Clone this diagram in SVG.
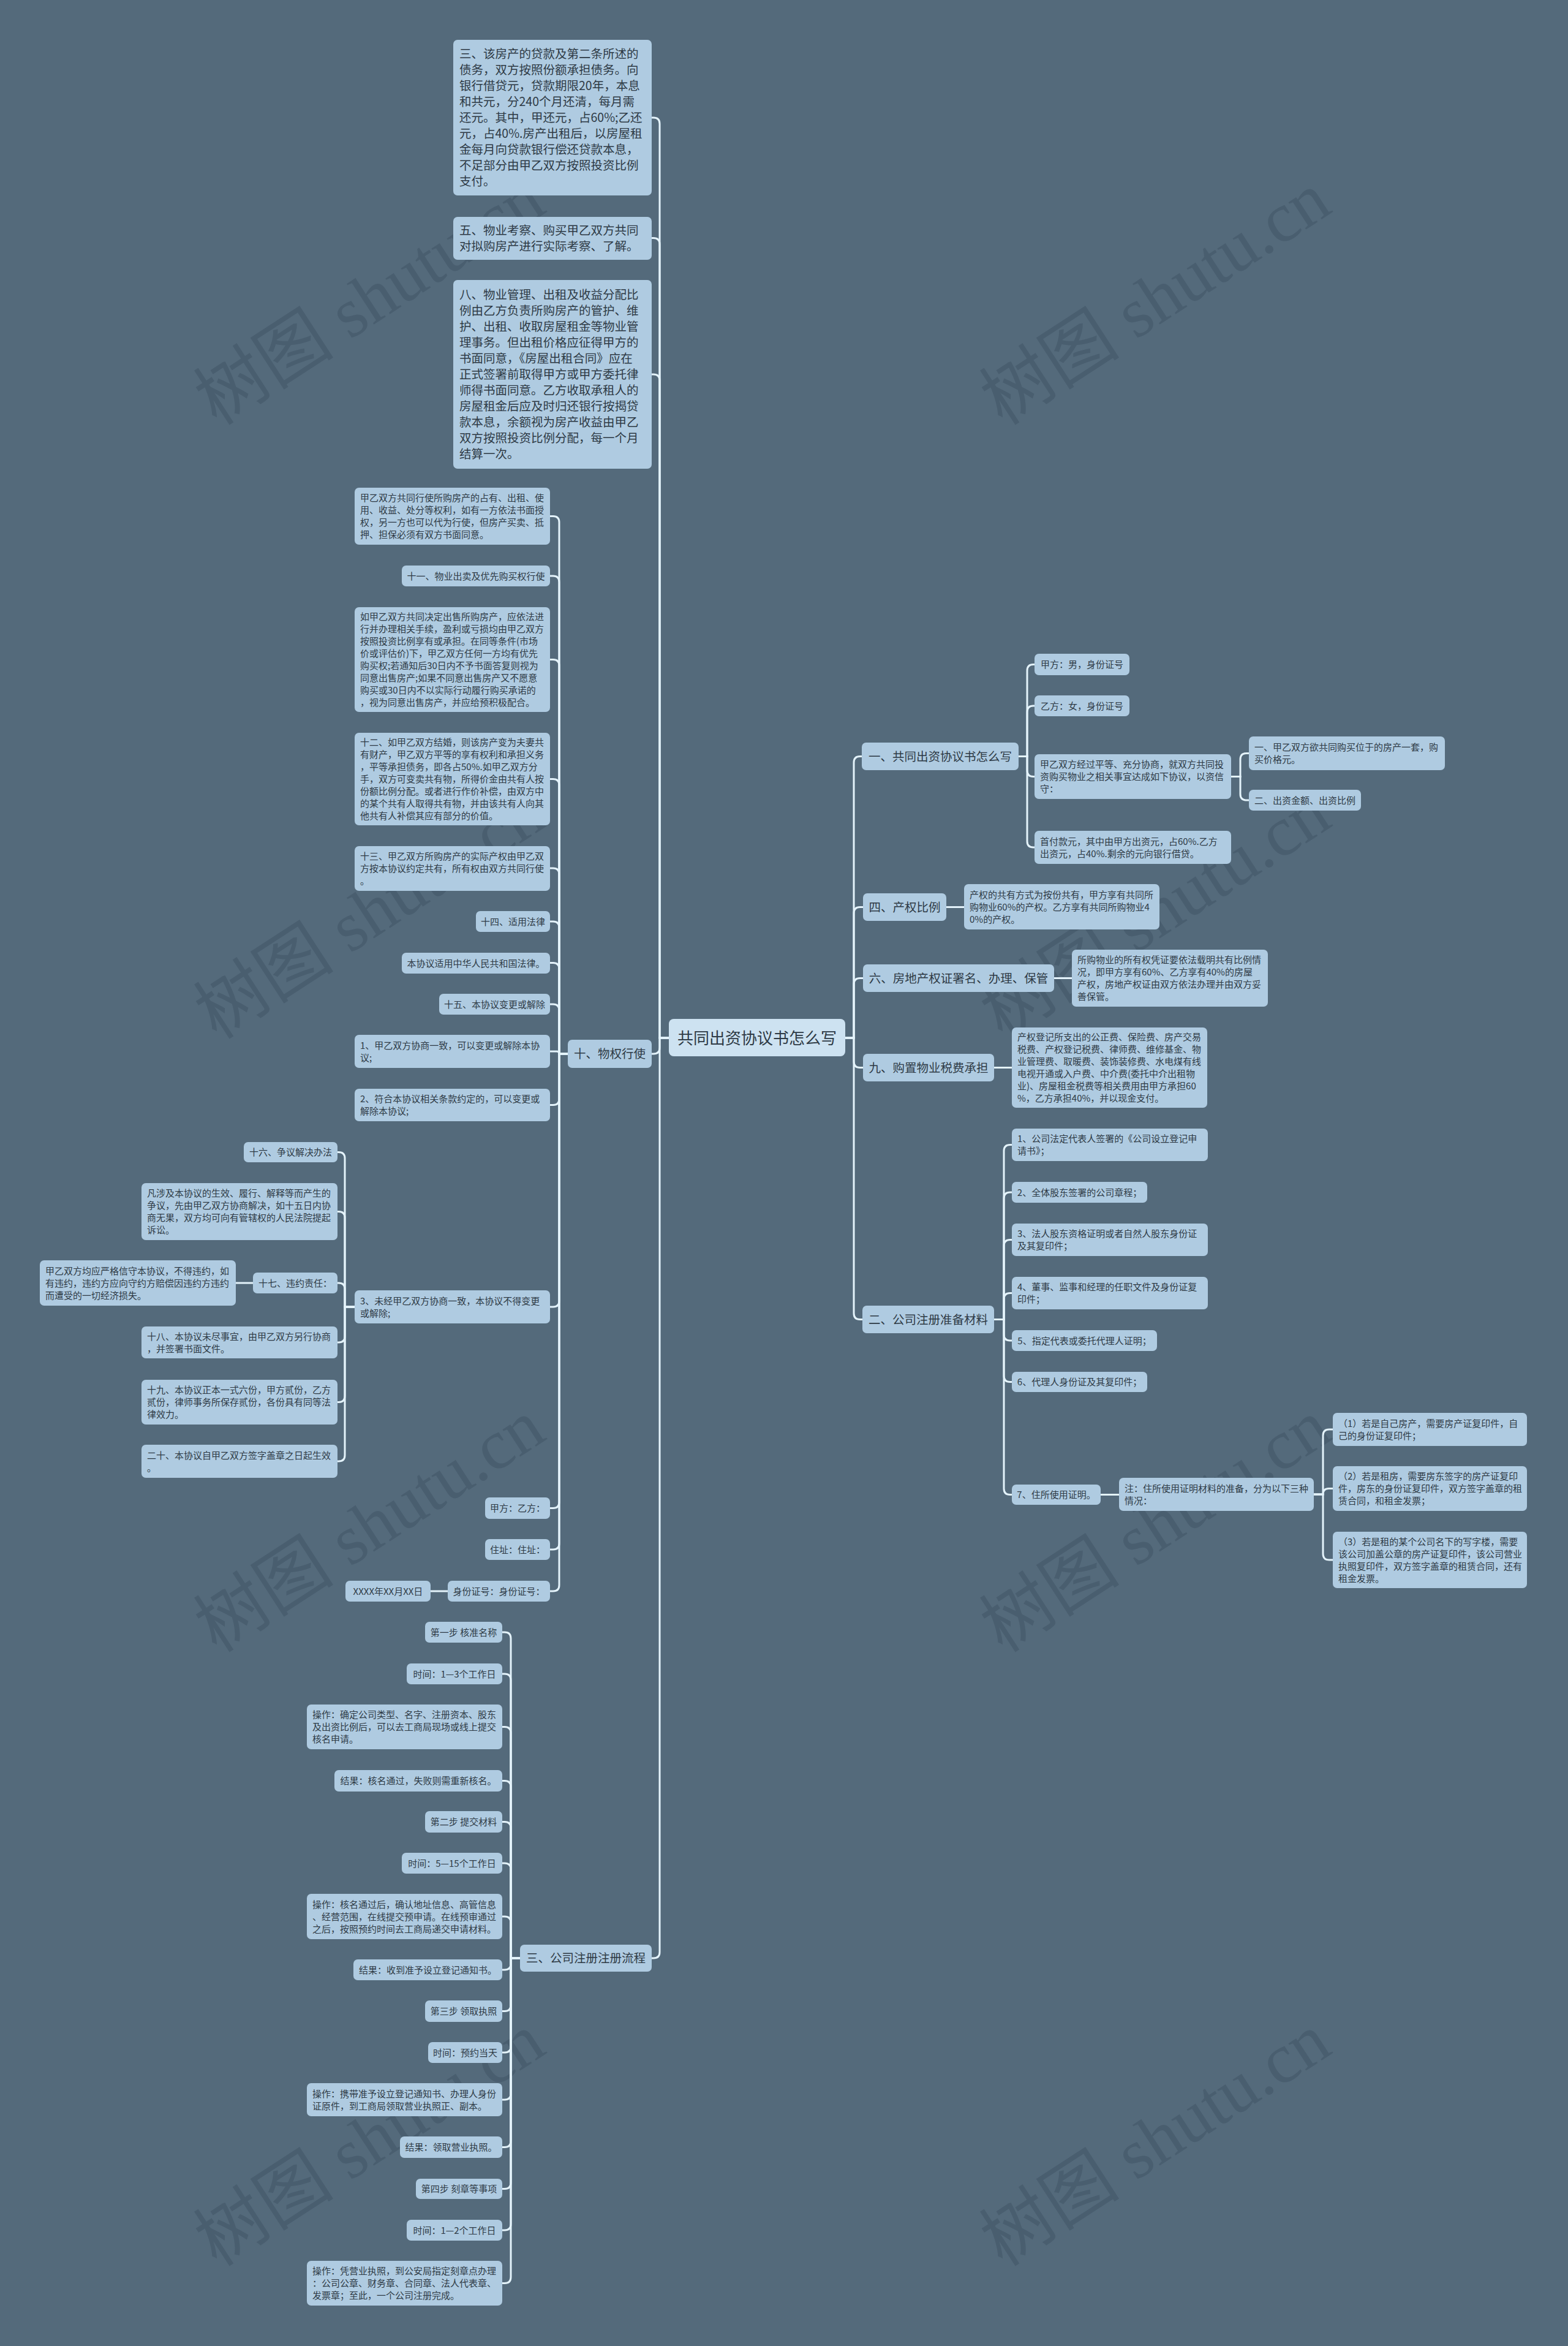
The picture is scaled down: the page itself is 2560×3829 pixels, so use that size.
<svg xmlns="http://www.w3.org/2000/svg" width="2560" height="3829" viewBox="0 0 2560 3829">
<style>
.bg{fill:#546a7b}
.n{fill:#afcbe1}
.rt{fill:#cde2f1}
.t{font-family:"Noto Sans CJK SC","Liberation Sans",sans-serif;font-size:15px;fill:#2e3a45}
.tb{font-size:19.5px}
.tr{font-size:26px}
.m{text-anchor:middle}
.c{fill:none;stroke:#e4f3fb;stroke-width:3;stroke-linecap:round}
.wm{font-family:"Liberation Serif","Noto Sans CJK SC",serif;font-size:115px;fill:#2f4252;fill-opacity:0.28}
</style>
<rect class="bg" x="0" y="0" width="2560" height="3829"/>
<g id="watermarks">
<text class="wm" transform="translate(354,696) rotate(-33)">树图 shutu.cn</text>
<text class="wm" transform="translate(1637,696) rotate(-33)">树图 shutu.cn</text>
<text class="wm" transform="translate(354,1698) rotate(-33)">树图 shutu.cn</text>
<text class="wm" transform="translate(1637,1698) rotate(-33)">树图 shutu.cn</text>
<text class="wm" transform="translate(354,2699) rotate(-33)">树图 shutu.cn</text>
<text class="wm" transform="translate(1637,2699) rotate(-33)">树图 shutu.cn</text>
<text class="wm" transform="translate(354,3701) rotate(-33)">树图 shutu.cn</text>
<text class="wm" transform="translate(1637,3701) rotate(-33)">树图 shutu.cn</text>
</g>
<g id="connectors">
<path class="c" d="M1092,1694 H1077 V202 Q1077,192 1067,192 H1064"/>
<path class="c" d="M1092,1694 H1077 V398.5 Q1077,388.5 1067,388.5 H1064"/>
<path class="c" d="M1092,1694 H1077 V621 Q1077,611 1067,611 H1064"/>
<path class="c" d="M1092,1694 H1077 V1710 Q1077,1720 1067,1720 H1064"/>
<path class="c" d="M1092,1694 H1077 V3186 Q1077,3196 1067,3196 H1064"/>
<path class="c" d="M1380,1694 H1394 V1244.5 Q1394,1234.5 1404,1234.5 H1407"/>
<path class="c" d="M1380,1694 H1394 V1490.5 Q1394,1480.5 1404,1480.5 H1409"/>
<path class="c" d="M1380,1694 H1394 V1606.5 Q1394,1596.5 1404,1596.5 H1409"/>
<path class="c" d="M1380,1694 H1394 V1732.5 Q1394,1742.5 1404,1742.5 H1409"/>
<path class="c" d="M1380,1694 H1394 V2143.5 Q1394,2153.5 1404,2153.5 H1408"/>
<path class="c" d="M1663,1234.5 H1677 V1094.5 Q1677,1084.5 1687,1084.5 H1689"/>
<path class="c" d="M1663,1234.5 H1677 V1162 Q1677,1152 1687,1152 H1689"/>
<path class="c" d="M1663,1234.5 H1677 V1257.5 Q1677,1267.5 1687,1267.5 H1689"/>
<path class="c" d="M1663,1234.5 H1677 V1373 Q1677,1383 1687,1383 H1689"/>
<path class="c" d="M2010,1267.5 H2025 V1239.5 Q2025,1229.5 2035,1229.5 H2039"/>
<path class="c" d="M2010,1267.5 H2025 V1296 Q2025,1306 2035,1306 H2039"/>
<path class="c" d="M1545,1480.5 H1574"/>
<path class="c" d="M1721,1596.5 H1750"/>
<path class="c" d="M1623,1742.5 H1652"/>
<path class="c" d="M1623,2153.5 H1639 V1878.5 Q1639,1868.5 1649,1868.5 H1652"/>
<path class="c" d="M1623,2153.5 H1639 V1956 Q1639,1946 1649,1946 H1652"/>
<path class="c" d="M1623,2153.5 H1639 V2033.5 Q1639,2023.5 1649,2023.5 H1652"/>
<path class="c" d="M1623,2153.5 H1639 V2120.5 Q1639,2110.5 1649,2110.5 H1652"/>
<path class="c" d="M1623,2153.5 H1639 V2178 Q1639,2188 1649,2188 H1652"/>
<path class="c" d="M1623,2153.5 H1639 V2245.5 Q1639,2255.5 1649,2255.5 H1652"/>
<path class="c" d="M1623,2153.5 H1639 V2429.5 Q1639,2439.5 1649,2439.5 H1652"/>
<path class="c" d="M1797,2439.5 H1827"/>
<path class="c" d="M2145,2439 H2160 V2343 Q2160,2333 2170,2333 H2176"/>
<path class="c" d="M2145,2439 H2160 Q2160,2429.5 2169.5,2429.5 H2176"/>
<path class="c" d="M2145,2439 H2160 V2536 Q2160,2546 2170,2546 H2176"/>
<path class="c" d="M927,1720 H913 V852.5 Q913,842.5 903,842.5 H898"/>
<path class="c" d="M927,1720 H913 V950 Q913,940 903,940 H898"/>
<path class="c" d="M927,1720 H913 V1086.5 Q913,1076.5 903,1076.5 H898"/>
<path class="c" d="M927,1720 H913 V1281.5 Q913,1271.5 903,1271.5 H898"/>
<path class="c" d="M927,1720 H913 V1427 Q913,1417 903,1417 H898"/>
<path class="c" d="M927,1720 H913 V1514 Q913,1504 903,1504 H898"/>
<path class="c" d="M927,1720 H913 V1581.5 Q913,1571.5 903,1571.5 H898"/>
<path class="c" d="M927,1720 H913 V1649 Q913,1639 903,1639 H898"/>
<path class="c" d="M927,1720 H913 Q913,1716 909,1716 H898"/>
<path class="c" d="M927,1720 H913 V1793.5 Q913,1803.5 903,1803.5 H898"/>
<path class="c" d="M927,1720 H913 V2123 Q913,2133 903,2133 H898"/>
<path class="c" d="M927,1720 H913 V2451.5 Q913,2461.5 903,2461.5 H898"/>
<path class="c" d="M927,1720 H913 V2519 Q913,2529 903,2529 H898"/>
<path class="c" d="M927,1720 H913 V2587 Q913,2597 903,2597 H898"/>
<path class="c" d="M731,2597 H703"/>
<path class="c" d="M579,2133 H563 V1890.5 Q563,1880.5 553,1880.5 H551"/>
<path class="c" d="M579,2133 H563 V1987.5 Q563,1977.5 553,1977.5 H551"/>
<path class="c" d="M579,2133 H563 V2104 Q563,2094 553,2094 H551"/>
<path class="c" d="M579,2133 H563 V2181 Q563,2191 553,2191 H551"/>
<path class="c" d="M579,2133 H563 V2278.5 Q563,2288.5 553,2288.5 H551"/>
<path class="c" d="M579,2133 H563 V2375 Q563,2385 553,2385 H551"/>
<path class="c" d="M413,2094 H385"/>
<path class="c" d="M849,3196 H834 V2674 Q834,2664 824,2664 H820"/>
<path class="c" d="M849,3196 H834 V2742 Q834,2732 824,2732 H820"/>
<path class="c" d="M849,3196 H834 V2828.5 Q834,2818.5 824,2818.5 H820"/>
<path class="c" d="M849,3196 H834 V2916.5 Q834,2906.5 824,2906.5 H820"/>
<path class="c" d="M849,3196 H834 V2983.5 Q834,2973.5 824,2973.5 H820"/>
<path class="c" d="M849,3196 H834 V3051 Q834,3041 824,3041 H820"/>
<path class="c" d="M849,3196 H834 V3138 Q834,3128 824,3128 H820"/>
<path class="c" d="M849,3196 H834 V3205 Q834,3215 824,3215 H820"/>
<path class="c" d="M849,3196 H834 V3272.5 Q834,3282.5 824,3282.5 H820"/>
<path class="c" d="M849,3196 H834 V3340 Q834,3350 824,3350 H820"/>
<path class="c" d="M849,3196 H834 V3417 Q834,3427 824,3427 H820"/>
<path class="c" d="M849,3196 H834 V3494.5 Q834,3504.5 824,3504.5 H820"/>
<path class="c" d="M849,3196 H834 V3562.5 Q834,3572.5 824,3572.5 H820"/>
<path class="c" d="M849,3196 H834 V3630 Q834,3640 824,3640 H820"/>
<path class="c" d="M849,3196 H834 V3716.5 Q834,3726.5 824,3726.5 H820"/>
</g>
<g id="root"><rect class="rt" x="1092" y="1663" width="288" height="61" rx="8"/><text class="t tr m" x="1236" y="1703.9">共同出资协议书怎么写</text></g>
<g id="n-san"><rect class="n" x="740" y="65" width="324" height="254" rx="7"/><text class="t tb" x="750" y="95.4"><tspan x="750">三、该房产的贷款及第二条所述的</tspan><tspan x="750" dy="26">债务，双方按照份额承担债务。向</tspan><tspan x="750" dy="26">银行借贷元，贷款期限20年，本息</tspan><tspan x="750" dy="26">和共元，分240个月还清，每月需</tspan><tspan x="750" dy="26">还元。其中，甲还元，占60%;乙还</tspan><tspan x="750" dy="26">元，占40%.房产出租后，以房屋租</tspan><tspan x="750" dy="26">金每月向贷款银行偿还贷款本息，</tspan><tspan x="750" dy="26">不足部分由甲乙双方按照投资比例</tspan><tspan x="750" dy="26">支付。</tspan></text></g>
<g id="n-wu"><rect class="n" x="740" y="354" width="324" height="70" rx="7"/><text class="t tb" x="750" y="383.4"><tspan x="750">五、物业考察、购买甲乙双方共同</tspan><tspan x="750" dy="26">对拟购房产进行实际考察、了解。</tspan></text></g>
<g id="n-ba"><rect class="n" x="740" y="457" width="324" height="308" rx="7"/><text class="t tb" x="750" y="488.4"><tspan x="750">八、物业管理、出租及收益分配比</tspan><tspan x="750" dy="26">例由乙方负责所购房产的管护、维</tspan><tspan x="750" dy="26">护、出租、收取房屋租金等物业管</tspan><tspan x="750" dy="26">理事务。但出租价格应征得甲方的</tspan><tspan x="750" dy="26">书面同意，《房屋出租合同》应在</tspan><tspan x="750" dy="26">正式签署前取得甲方或甲方委托律</tspan><tspan x="750" dy="26">师得书面同意。乙方收取承租人的</tspan><tspan x="750" dy="26">房屋租金后应及时归还银行按揭贷</tspan><tspan x="750" dy="26">款本息，余额视为房产收益由甲乙</tspan><tspan x="750" dy="26">双方按照投资比例分配，每一个月</tspan><tspan x="750" dy="26">结算一次。</tspan></text></g>
<g id="n-shi"><rect class="n" x="927" y="1697" width="137" height="46" rx="7"/><text class="t tb m" x="995.5" y="1727.4">十、物权行使</text></g>
<g id="n-shi-a"><rect class="n" x="579" y="796" width="319" height="93" rx="7"/><text class="t" x="588" y="818.2"><tspan x="588">甲乙双方共同行使所购房产的占有、出租、使</tspan><tspan x="588" dy="20">用、收益、处分等权利，如有一方依法书面授</tspan><tspan x="588" dy="20">权，另一方也可以代为行使，但房产买卖、抵</tspan><tspan x="588" dy="20">押、担保必须有双方书面同意。</tspan></text></g>
<g id="n-shi-b"><rect class="n" x="656" y="923" width="242" height="34" rx="7"/><text class="t m" x="777" y="945.7">十一、物业出卖及优先购买权行使</text></g>
<g id="n-shi-c"><rect class="n" x="579" y="991" width="319" height="171" rx="7"/><text class="t" x="588" y="1012.2"><tspan x="588">如甲乙双方共同决定出售所购房产，应依法进</tspan><tspan x="588" dy="20">行并办理相关手续，盈利或亏损均由甲乙双方</tspan><tspan x="588" dy="20">按照投资比例享有或承担。在同等条件(市场</tspan><tspan x="588" dy="20">价或评估价)下，甲乙双方任何一方均有优先</tspan><tspan x="588" dy="20">购买权;若通知后30日内不予书面答复则视为</tspan><tspan x="588" dy="20">同意出售房产;如果不同意出售房产又不愿意</tspan><tspan x="588" dy="20">购买或30日内不以实际行动履行购买承诺的</tspan><tspan x="588" dy="20">，视为同意出售房产，并应给预积极配合。</tspan></text></g>
<g id="n-shi-d"><rect class="n" x="579" y="1196" width="319" height="151" rx="7"/><text class="t" x="588" y="1217.2"><tspan x="588">十二、如甲乙双方结婚，则该房产变为夫妻共</tspan><tspan x="588" dy="20">有财产，甲乙双方平等的享有权利和承担义务</tspan><tspan x="588" dy="20">，平等承担债务，即各占50%.如甲乙双方分</tspan><tspan x="588" dy="20">手，双方可变卖共有物，所得价金由共有人按</tspan><tspan x="588" dy="20">份额比例分配。或者进行作价补偿，由双方中</tspan><tspan x="588" dy="20">的某个共有人取得共有物，并由该共有人向其</tspan><tspan x="588" dy="20">他共有人补偿其应有部分的价值。</tspan></text></g>
<g id="n-shi-e"><rect class="n" x="579" y="1381" width="319" height="73" rx="7"/><text class="t" x="588" y="1403.2"><tspan x="588">十三、甲乙双方所购房产的实际产权由甲乙双</tspan><tspan x="588" dy="20">方按本协议约定共有，所有权由双方共同行使</tspan><tspan x="588" dy="20">。</tspan></text></g>
<g id="n-shi-f"><rect class="n" x="777" y="1487" width="121" height="34" rx="7"/><text class="t m" x="837.5" y="1509.7">十四、适用法律</text></g>
<g id="n-shi-g"><rect class="n" x="656" y="1555" width="242" height="34" rx="7"/><text class="t m" x="777" y="1577.7">本协议适用中华人民共和国法律。</text></g>
<g id="n-shi-h"><rect class="n" x="717" y="1622" width="181" height="34" rx="7"/><text class="t m" x="807.5" y="1644.7">十五、本协议变更或解除</text></g>
<g id="n-shi-i"><rect class="n" x="579" y="1689" width="319" height="54" rx="7"/><text class="t" x="588" y="1711.7"><tspan x="588">1、甲乙双方协商一致，可以变更或解除本协</tspan><tspan x="588" dy="20">议;</tspan></text></g>
<g id="n-shi-j"><rect class="n" x="579" y="1777" width="319" height="53" rx="7"/><text class="t" x="588" y="1799.2"><tspan x="588">2、符合本协议相关条款约定的，可以变更或</tspan><tspan x="588" dy="20">解除本协议;</tspan></text></g>
<g id="n-shi-k"><rect class="n" x="579" y="2106" width="319" height="54" rx="7"/><text class="t" x="588" y="2128.7"><tspan x="588">3、未经甲乙双方协商一致，本协议不得变更</tspan><tspan x="588" dy="20">或解除;</tspan></text></g>
<g id="n-k1"><rect class="n" x="398" y="1864" width="153" height="33" rx="7"/><text class="t m" x="474.5" y="1886.2">十六、争议解决办法</text></g>
<g id="n-k2"><rect class="n" x="231" y="1931" width="320" height="93" rx="7"/><text class="t" x="240" y="1953.2"><tspan x="240">凡涉及本协议的生效、履行、解释等而产生的</tspan><tspan x="240" dy="20">争议，先由甲乙双方协商解决，如十五日内协</tspan><tspan x="240" dy="20">商无果，双方均可向有管辖权的人民法院提起</tspan><tspan x="240" dy="20">诉讼。</tspan></text></g>
<g id="n-k3"><rect class="n" x="413" y="2077" width="138" height="34" rx="7"/><text class="t m" x="482" y="2099.7">十七、违约责任：</text></g>
<g id="n-k3a"><rect class="n" x="65" y="2057" width="320" height="74" rx="7"/><text class="t" x="74" y="2079.7"><tspan x="74">甲乙双方均应严格信守本协议，不得违约，如</tspan><tspan x="74" dy="20">有违约，违约方应向守约方赔偿因违约方违约</tspan><tspan x="74" dy="20">而遭受的一切经济损失。</tspan></text></g>
<g id="n-k4"><rect class="n" x="231" y="2165" width="320" height="52" rx="7"/><text class="t" x="240" y="2186.7"><tspan x="240">十八、本协议未尽事宜，由甲乙双方另行协商</tspan><tspan x="240" dy="20">，并签署书面文件。</tspan></text></g>
<g id="n-k5"><rect class="n" x="231" y="2252" width="320" height="73" rx="7"/><text class="t" x="240" y="2274.2"><tspan x="240">十九、本协议正本一式六份，甲方贰份，乙方</tspan><tspan x="240" dy="20">贰份，律师事务所保存贰份，各份具有同等法</tspan><tspan x="240" dy="20">律效力。</tspan></text></g>
<g id="n-k6"><rect class="n" x="231" y="2358" width="320" height="54" rx="7"/><text class="t" x="240" y="2380.7"><tspan x="240">二十、本协议自甲乙双方签字盖章之日起生效</tspan><tspan x="240" dy="20">。</tspan></text></g>
<g id="n-shi-l"><rect class="n" x="792" y="2444" width="106" height="35" rx="7"/><text class="t m" x="845" y="2467.2">甲方：乙方：</text></g>
<g id="n-shi-m"><rect class="n" x="792" y="2512" width="106" height="34" rx="7"/><text class="t m" x="845" y="2534.7">住址：住址：</text></g>
<g id="n-shi-n"><rect class="n" x="731" y="2580" width="167" height="34" rx="7"/><text class="t m" x="814.5" y="2602.7">身份证号：身份证号：</text></g>
<g id="n-shi-o"><rect class="n" x="564" y="2580" width="139" height="34" rx="7"/><text class="t m" x="633.5" y="2602.7">XXXX年XX月XX日</text></g>
<g id="n-liucheng"><rect class="n" x="849" y="3174" width="215" height="44" rx="7"/><text class="t tb m" x="956.5" y="3203.4">三、公司注册注册流程</text></g>
<g id="n-lc1"><rect class="n" x="694" y="2647" width="126" height="34" rx="7"/><text class="t m" x="757" y="2669.7">第一步 核准名称</text></g>
<g id="n-lc2"><rect class="n" x="664" y="2715" width="156" height="34" rx="7"/><text class="t m" x="742" y="2737.7">时间：1—3个工作日</text></g>
<g id="n-lc3"><rect class="n" x="501" y="2782" width="319" height="73" rx="7"/><text class="t" x="510" y="2804.2"><tspan x="510">操作：确定公司类型、名字、注册资本、股东</tspan><tspan x="510" dy="20">及出资比例后，可以去工商局现场或线上提交</tspan><tspan x="510" dy="20">核名申请。</tspan></text></g>
<g id="n-lc4"><rect class="n" x="546" y="2889" width="274" height="35" rx="7"/><text class="t m" x="683" y="2912.2">结果：核名通过，失败则需重新核名。</text></g>
<g id="n-lc5"><rect class="n" x="694" y="2956" width="126" height="35" rx="7"/><text class="t m" x="757" y="2979.2">第二步 提交材料</text></g>
<g id="n-lc6"><rect class="n" x="656" y="3024" width="164" height="34" rx="7"/><text class="t m" x="738" y="3046.7">时间：5—15个工作日</text></g>
<g id="n-lc7"><rect class="n" x="501" y="3091" width="319" height="74" rx="7"/><text class="t" x="510" y="3113.7"><tspan x="510">操作：核名通过后，确认地址信息、高管信息</tspan><tspan x="510" dy="20">、经营范围，在线提交预申请。在线预审通过</tspan><tspan x="510" dy="20">之后，按照预约时间去工商局递交申请材料。</tspan></text></g>
<g id="n-lc8"><rect class="n" x="577" y="3198" width="243" height="34" rx="7"/><text class="t m" x="698.5" y="3220.7">结果：收到准予设立登记通知书。</text></g>
<g id="n-lc9"><rect class="n" x="694" y="3265" width="126" height="35" rx="7"/><text class="t m" x="757" y="3288.2">第三步 领取执照</text></g>
<g id="n-lc10"><rect class="n" x="699" y="3333" width="121" height="34" rx="7"/><text class="t m" x="759.5" y="3355.7">时间：预约当天</text></g>
<g id="n-lc11"><rect class="n" x="501" y="3400" width="319" height="54" rx="7"/><text class="t" x="510" y="3422.7"><tspan x="510">操作：携带准予设立登记通知书、办理人身份</tspan><tspan x="510" dy="20">证原件，到工商局领取营业执照正、副本。</tspan></text></g>
<g id="n-lc12"><rect class="n" x="653" y="3487" width="167" height="35" rx="7"/><text class="t m" x="736.5" y="3510.2">结果：领取营业执照。</text></g>
<g id="n-lc13"><rect class="n" x="679" y="3556" width="141" height="33" rx="7"/><text class="t m" x="749.5" y="3578.2">第四步 刻章等事项</text></g>
<g id="n-lc14"><rect class="n" x="664" y="3623" width="156" height="34" rx="7"/><text class="t m" x="742" y="3645.7">时间：1—2个工作日</text></g>
<g id="n-lc15"><rect class="n" x="501" y="3690" width="319" height="73" rx="7"/><text class="t" x="510" y="3712.2"><tspan x="510">操作：凭营业执照，到公安局指定刻章点办理</tspan><tspan x="510" dy="20">：公司公章、财务章、合同章、法人代表章、</tspan><tspan x="510" dy="20">发票章；至此，一个公司注册完成。</tspan></text></g>
<g id="n-yi"><rect class="n" x="1407" y="1212" width="256" height="45" rx="7"/><text class="t tb m" x="1535" y="1241.9">一、共同出资协议书怎么写</text></g>
<g id="n-yi1"><rect class="n" x="1689" y="1067" width="155" height="35" rx="7"/><text class="t m" x="1766.5" y="1090.2">甲方：男，身份证号</text></g>
<g id="n-yi2"><rect class="n" x="1689" y="1135" width="155" height="34" rx="7"/><text class="t m" x="1766.5" y="1157.7">乙方：女，身份证号</text></g>
<g id="n-yi3"><rect class="n" x="1689" y="1231" width="321" height="73" rx="7"/><text class="t" x="1698" y="1253.2"><tspan x="1698">甲乙双方经过平等、充分协商，就双方共同投</tspan><tspan x="1698" dy="20">资购买物业之相关事宜达成如下协议，以资信</tspan><tspan x="1698" dy="20">守：</tspan></text></g>
<g id="n-yi3a"><rect class="n" x="2039" y="1202" width="320" height="55" rx="7"/><text class="t" x="2048" y="1225.2"><tspan x="2048">一、甲乙双方欲共同购买位于的房产一套，购</tspan><tspan x="2048" dy="20">买价格元。</tspan></text></g>
<g id="n-yi3b"><rect class="n" x="2039" y="1289" width="183" height="34" rx="7"/><text class="t m" x="2130.5" y="1311.7">二、出资金额、出资比例</text></g>
<g id="n-yi4"><rect class="n" x="1689" y="1356" width="321" height="54" rx="7"/><text class="t" x="1698" y="1378.7"><tspan x="1698">首付款元，其中由甲方出资元，占60%.乙方</tspan><tspan x="1698" dy="20">出资元，占40%.剩余的元向银行借贷。</tspan></text></g>
<g id="n-si"><rect class="n" x="1409" y="1458" width="136" height="45" rx="7"/><text class="t tb m" x="1477" y="1487.9">四、产权比例</text></g>
<g id="n-si1"><rect class="n" x="1574" y="1443" width="319" height="74" rx="7"/><text class="t" x="1583" y="1465.7"><tspan x="1583">产权的共有方式为按份共有，甲方享有共同所</tspan><tspan x="1583" dy="20">购物业60%的产权。乙方享有共同所购物业4</tspan><tspan x="1583" dy="20">0%的产权。</tspan></text></g>
<g id="n-liu"><rect class="n" x="1409" y="1574" width="312" height="45" rx="7"/><text class="t tb m" x="1565" y="1603.9">六、房地产权证署名、办理、保管</text></g>
<g id="n-liu1"><rect class="n" x="1750" y="1550" width="320" height="93" rx="7"/><text class="t" x="1759" y="1572.2"><tspan x="1759">所购物业的所有权凭证要依法载明共有比例情</tspan><tspan x="1759" dy="20">况，即甲方享有60%、乙方享有40%的房屋</tspan><tspan x="1759" dy="20">产权，房地产权证由双方依法办理并由双方妥</tspan><tspan x="1759" dy="20">善保管。</tspan></text></g>
<g id="n-jiu"><rect class="n" x="1409" y="1720" width="214" height="45" rx="7"/><text class="t tb m" x="1516" y="1749.9">九、购置物业税费承担</text></g>
<g id="n-jiu1"><rect class="n" x="1652" y="1677" width="319" height="131" rx="7"/><text class="t" x="1661" y="1698.2"><tspan x="1661">产权登记所支出的公正费、保险费、房产交易</tspan><tspan x="1661" dy="20">税费、产权登记税费、律师费、维修基金、物</tspan><tspan x="1661" dy="20">业管理费、取暖费、装饰装修费、水电煤有线</tspan><tspan x="1661" dy="20">电视开通或入户费、中介费(委托中介出租物</tspan><tspan x="1661" dy="20">业)、房屋租金税费等相关费用由甲方承担60</tspan><tspan x="1661" dy="20">%，乙方承担40%，并以现金支付。</tspan></text></g>
<g id="n-er"><rect class="n" x="1408" y="2131" width="215" height="45" rx="7"/><text class="t tb m" x="1515.5" y="2160.9">二、公司注册准备材料</text></g>
<g id="n-er1"><rect class="n" x="1652" y="1842" width="320" height="53" rx="7"/><text class="t" x="1661" y="1864.2"><tspan x="1661">1、公司法定代表人签署的《公司设立登记申</tspan><tspan x="1661" dy="20">请书》；</tspan></text></g>
<g id="n-er2"><rect class="n" x="1652" y="1929" width="221" height="34" rx="7"/><text class="t m" x="1762.5" y="1951.7">2、全体股东签署的公司章程；</text></g>
<g id="n-er3"><rect class="n" x="1652" y="1997" width="320" height="53" rx="7"/><text class="t" x="1661" y="2019.2"><tspan x="1661">3、法人股东资格证明或者自然人股东身份证</tspan><tspan x="1661" dy="20">及其复印件；</tspan></text></g>
<g id="n-er4"><rect class="n" x="1652" y="2084" width="320" height="53" rx="7"/><text class="t" x="1661" y="2106.2"><tspan x="1661">4、董事、监事和经理的任职文件及身份证复</tspan><tspan x="1661" dy="20">印件；</tspan></text></g>
<g id="n-er5"><rect class="n" x="1652" y="2171" width="237" height="34" rx="7"/><text class="t m" x="1770.5" y="2193.7">5、指定代表或委托代理人证明；</text></g>
<g id="n-er6"><rect class="n" x="1652" y="2239" width="221" height="33" rx="7"/><text class="t m" x="1762.5" y="2261.2">6、代理人身份证及其复印件；</text></g>
<g id="n-er7"><rect class="n" x="1652" y="2423" width="145" height="33" rx="7"/><text class="t m" x="1724.5" y="2445.2">7、住所使用证明。</text></g>
<g id="n-zhu"><rect class="n" x="1827" y="2412" width="318" height="54" rx="7"/><text class="t" x="1836" y="2434.7"><tspan x="1836">注：住所使用证明材料的准备，分为以下三种</tspan><tspan x="1836" dy="20">情况：</tspan></text></g>
<g id="n-zhu1"><rect class="n" x="2176" y="2306" width="317" height="54" rx="7"/><text class="t" x="2185" y="2328.7"><tspan x="2185">（1）若是自己房产，需要房产证复印件，自</tspan><tspan x="2185" dy="20">己的身份证复印件；</tspan></text></g>
<g id="n-zhu2"><rect class="n" x="2176" y="2393" width="317" height="73" rx="7"/><text class="t" x="2185" y="2415.2"><tspan x="2185">（2）若是租房，需要房东签字的房产证复印</tspan><tspan x="2185" dy="20">件，房东的身份证复印件，双方签字盖章的租</tspan><tspan x="2185" dy="20">赁合同，和租金发票；</tspan></text></g>
<g id="n-zhu3"><rect class="n" x="2176" y="2500" width="317" height="92" rx="7"/><text class="t" x="2185" y="2521.7"><tspan x="2185">（3）若是租的某个公司名下的写字楼，需要</tspan><tspan x="2185" dy="20">该公司加盖公章的房产证复印件，该公司营业</tspan><tspan x="2185" dy="20">执照复印件，双方签字盖章的租赁合同，还有</tspan><tspan x="2185" dy="20">租金发票。</tspan></text></g>
</svg>
